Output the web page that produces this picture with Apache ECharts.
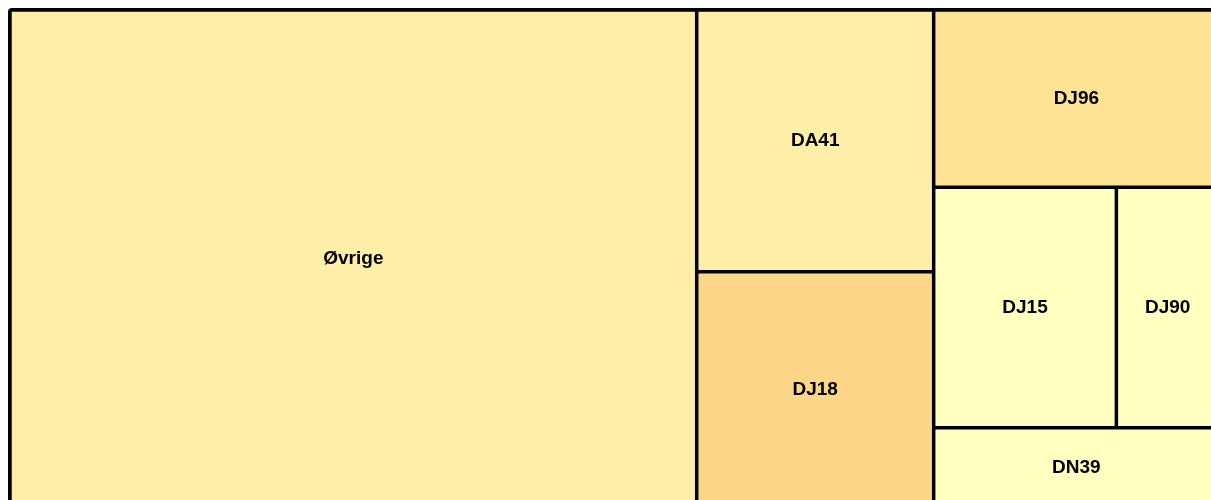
<!DOCTYPE html>
<html>
<head>
<meta charset="utf-8">
<title>Treemap</title>
<script src="https://cdn.jsdelivr.net/npm/echarts@6/dist/echarts.min.js"></script>
<style>
  html, body { margin: 0; padding: 0; background: #fff; }
  #main { width: 1211px; height: 500px; }
</style>
</head>
<body>
<div id="main"></div>
<script>
// data (share, %)
var categories = ['Øvrige', 'DA41', 'DJ18', 'DJ96', 'DJ15', 'DJ90', 'DN39'];
var values = [56.8, 10.3, 9.3, 8.4, 7.3, 4.1, 3.8];

// fill per cell
var cellColors = {
    'Øvrige': '#ffeea8',
    'DA41': '#ffeea8',
    'DJ18': '#fdd688',
    'DJ96': '#ffe394',
    'DJ15': '#ffffc0',
    'DJ90': '#ffffc0',
    'DN39': '#ffffc0'
};

(function(){
    var myChart = echarts.init(document.getElementById('main'));

    var seriesData = categories.map(function(name, i){
        return {
            name: name,
            value: values[i],
            itemStyle: { color: cellColors[name] }
        };
    });

    var option = {
        animation: false,
        series: [{
            type: 'treemap',
            left: 8,
            top: 8,
            width: 1213,
            height: 502,
            roam: false,
            nodeClick: false,
            squareRatio: 1.19, // keeps the cell arrangement of the original
            breadcrumb: { show: false },
            label: {
                show: true,
                position: 'inside',
                align: 'center',
                verticalAlign: 'middle',
                formatter: '{b}',
                color: '#000',
                fontSize: 19,
                fontWeight: 'bold',
                fontFamily: 'Arial, "Liberation Sans", sans-serif'
            },
            itemStyle: {
                borderColor: '#000',
                borderWidth: 1.75,
                gapWidth: 0
            },
            levels: [{
                itemStyle: {
                    borderColor: '#000',
                    borderWidth: 2,
                    gapWidth: 0,
                    borderRadius: 4
                }
            }, {
                itemStyle: {
                    borderColor: '#000',
                    borderWidth: 1.75,
                    gapWidth: 0
                }
            }],
            data: seriesData
        }]
    };

    myChart.setOption(option);
    window.addEventListener('resize', function(){
        myChart.resize();
    });
})();
</script>
</body>
</html>
